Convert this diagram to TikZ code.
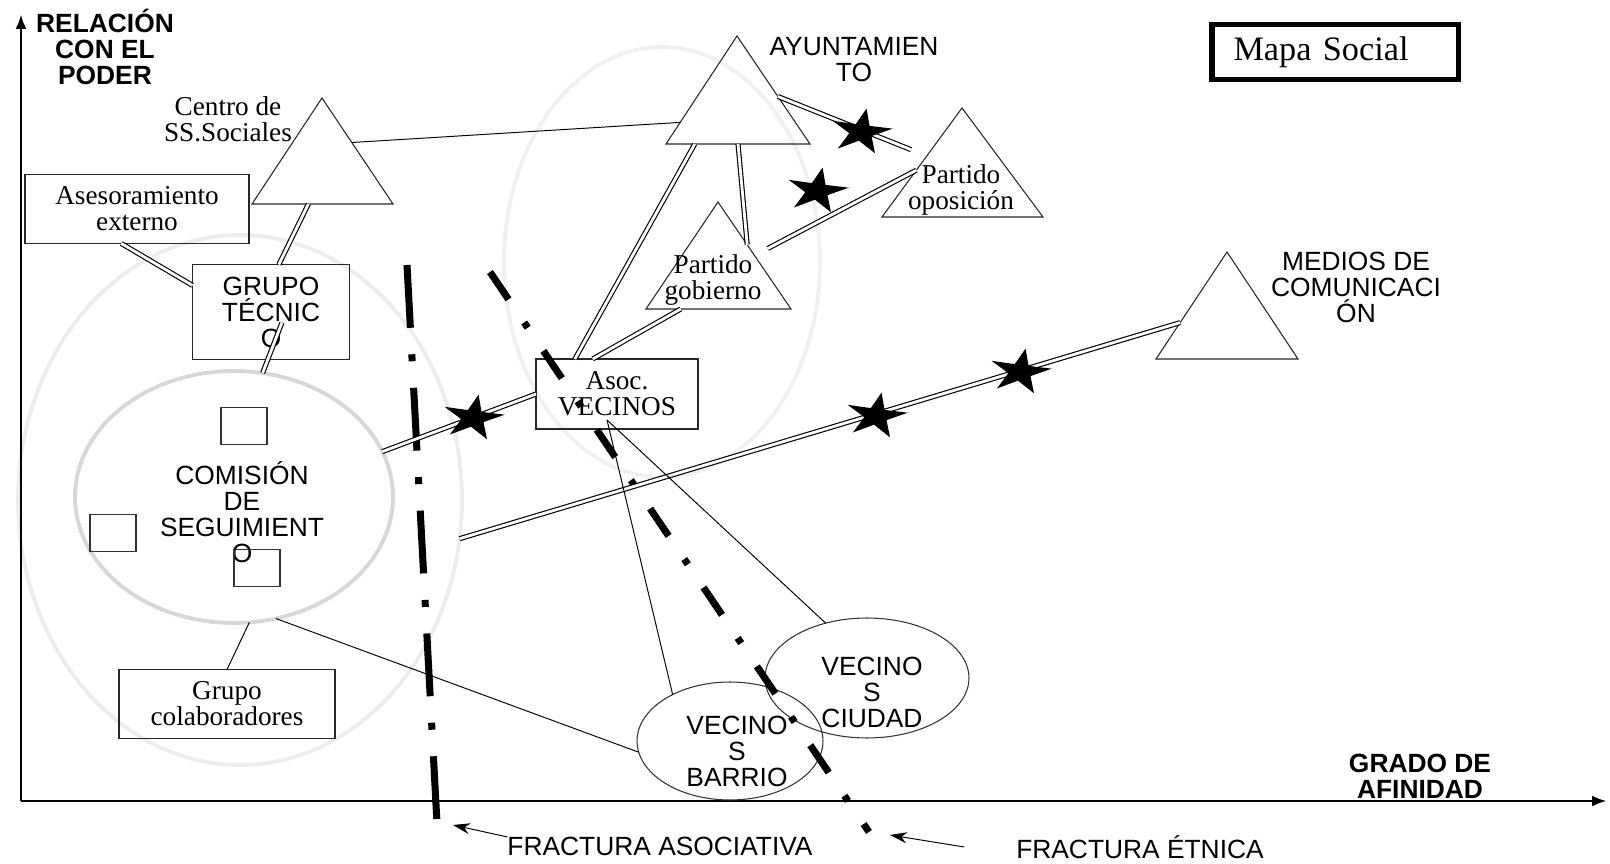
\documentclass[tikz,border=0pt]{standalone}
\usepackage{fontspec}
\setmainfont{Liberation Serif}
\setsansfont{Liberation Sans}
\usetikzlibrary{shapes.geometric,arrows.meta,calc}

\begin{document}
\begin{tikzpicture}[x={(0.02cm,0cm)},y={(0cm,-0.02cm)},every node/.style={inner sep=0pt, outer sep=0pt},
  txt/.style={font=\sffamily\fontsize{15}{14.8}\selectfont, align=center},
  txtb/.style={font=\sffamily\bfseries\fontsize{15}{14.8}\selectfont, align=center},
  rom/.style={font=\fontsize{15.5}{14.8}\selectfont, align=center},
  caja/.style={draw=black!85, line width=0.6pt, rom},
  cuadro/.style={draw=black!80, line width=0.6pt, minimum width=0.92cm, minimum height=0.74cm},
  elipse/.style={draw=black!80, line width=0.6pt, ellipse},
  halo/.style={draw={rgb,255:red,215;green,215;blue,215}, line width=2.2pt, ellipse},
  tri/.style={draw=black!85, line width=0.6pt},
  doble/.style={double, double distance=1.6pt, line width=0.65pt},
  fino/.style={line width=0.55pt},
  estrella/.style={star, star points=5, star point ratio=2.7, fill=black, minimum size=0.95cm, xscale=1.35, rotate=-10},
  fractura/.style={line width=4pt}]
\useasboundingbox (0,0) rectangle (1610,864);

\node[halo, draw={rgb,255:red,236;green,236;blue,236}, minimum width=8.88cm, minimum height=10.6cm] (ext) at (240,500) {};
\node[halo, draw={rgb,255:red,240;green,240;blue,240}, minimum width=6.32cm, minimum height=8.6cm] (zona) at (662,262) {};
\node[halo, minimum width=6.36cm, minimum height=5.04cm] (com) at (234,497) {};

\draw[line width=1.7pt, -{Latex[length=0.3cm,width=0.22cm]}] (21,801) coordinate (origen) -- (21,14);
\draw[line width=1.7pt, -{Latex[length=0.3cm,width=0.22cm]}] (origen) -- (1607,801);
\node[txtb] (ejey) at (105,47) {RELACIÓN\\CON EL\\PODER};
\node[txtb] (ejex) at (1420,776) {GRADO DE\\AFINIDAD};

\node[draw, line width=3.4pt, rom, font=\fontsize{19.5}{20}\selectfont, text width=4.06cm, align=left, inner xsep=0.44cm, minimum height=1.1cm] (mapa) at (1335,52) {Mapa Social};

\draw[tri] (322,98) coordinate (css-a) -- (393,204) coordinate (css-r) -- (252,204) coordinate (css-l) -- cycle;
\draw[tri] (737,36) coordinate (ayto-a) -- (810,144) coordinate (ayto-r) -- (666,144) coordinate (ayto-l) -- cycle;
\draw[tri] (962,108) coordinate (opo-a) -- (1043,217) coordinate (opo-r) -- (882,217) coordinate (opo-l) -- cycle;
\draw[tri] (718,202) coordinate (gob-a) -- (791,309) coordinate (gob-r) -- (646,309) coordinate (gob-l) -- cycle;
\draw[tri] (1227,252) coordinate (med-a) -- (1298,359) coordinate (med-r) -- (1156,359) coordinate (med-l) -- cycle;
\node[rom] (css) at (228,119) {Centro de\\SS.Sociales};
\node[txt] (ayto) at (854,60) {AYUNTAMIEN\\TO};
\node[rom] (opo) at (961,190) {Partido\\oposición};
\node[rom] (gob) at (713,280) {Partido\\gobierno};
\node[txt] (med) at (1356,287) {MEDIOS DE\\COMUNICACI\\ÓN};

\node[caja, minimum width=4.48cm, minimum height=1.38cm] (ases) at (137,209) {Asesoramiento\\externo};
\node[caja, txt, minimum width=3.14cm, minimum height=1.9cm] (grupo) at (271,312) {GRUPO\\TÉCNIC\\O};
\node[caja, minimum width=3.24cm, minimum height=1.4cm] (asoc) at (617,394) {Asoc.\\VECINOS};
\node[caja, minimum width=4.32cm, minimum height=1.38cm] (colab) at (227,704) {Grupo\\colaboradores};
\node[txt] (comtxt) at (242,512) {COMISIÓN\\DE\\SEGUIMIENT\\O};
\node[cuadro] (c1) at (244,426) {};
\node[cuadro] (c2) at (113,533) {};
\node[cuadro] (c3) at (257,568) {};
\node[elipse, minimum width=3.72cm, minimum height=2.36cm, label={[txt, xshift=0.14cm, yshift=-0.2cm]center:{VECINO\\S\\BARRIO}}] (barrio) at (730,741) {};
\node[elipse, minimum width=4.08cm, minimum height=2.4cm, label={[txt, xshift=0.1cm, yshift=-0.28cm]center:{VECINO\\S\\CIUDAD}}] (ciudad) at (867,678) {};

\draw[fractura, dash pattern=on 35.8pt off 15.1pt on 4pt off 15.1pt] (407,265) coordinate (fa-ini) -- (437,823) coordinate (fa-fin);
\draw[fractura, dash pattern=on 18.8pt off 15.9pt on 3.6pt off 15.9pt] (490,272) coordinate (fe-ini) -- (869,832) coordinate (fe-fin);
\node[txt] (fasoc) at (660,846) {FRACTURA ASOCIATIVA};
\node[txt] (fetn) at (1140,847) {FRACTURA ÉTNICA};
\draw[fino, -{Stealth[length=0.34cm,width=0.22cm]}] ([shift={(0,-9)}]fasoc.west) -- ([shift={(16,2)}]fa-fin);
\draw[fino, -{Stealth[length=0.34cm,width=0.22cm]}] ([shift={(-52,0)}]fetn.west) -- ([shift={(21,3)}]fe-fin);

\draw[doble] ($(css-l)!0.4!(css-r)$) -- ($(grupo.north west)!0.55!(grupo.north east)$);
\draw[doble] ($(ases.south west)!0.43!(ases.south east)$) -- ($(grupo.north west)!0.22!(grupo.south west)$);
\draw[doble] ([shift={(11,-37)}]grupo.south) -- (com.77);
\draw[fino] ($(css-a)!0.42!(css-r)$) -- ($(ayto-a)!0.8!(ayto-l)$);
\draw[doble] ($(ayto-l)!0.2!(ayto-r)$) -- ($(asoc.north west)!0.24!(asoc.north east)$);
\draw[doble] ($(ayto-l)!0.5!(ayto-r)$) -- ($(gob-a)!0.4!(gob-r)$);
\draw[doble, shorten >=0.34cm] ($(ayto-a)!0.56!(ayto-r)$) -- ($(opo-a)!0.44!(opo-l)$);
\draw[doble, shorten <=0.3cm] ($(gob-a)!0.5!(gob-r)$) -- ($(opo-a)!0.57!(opo-l)$);
\draw[doble] ($(gob-l)!0.24!(gob-r)$) -- ($(asoc.north west)!0.35!(asoc.north east)$);
\draw[doble] (com.17) -- (asoc.west);
\draw[doble] (ext.-10) -- ($(med-a)!0.66!(med-l)$);
\draw[fino] ([shift={(-10,-9)}]asoc.south) -- (barrio.141);
\draw[fino] ([shift={(-10,-9)}]asoc.south) -- (ciudad.127);
\draw[fino] (com.-71) -- (barrio.187);
\draw[fino] (com.-83) -- (colab.north);

\node[estrella] (e1) at (861,132) {};
\node[estrella] (e2) at (817,191) {};
\node[estrella] (e3) at (473,418) {};
\node[estrella] (e4) at (876,416) {};
\node[estrella] (e5) at (1020,372) {};
\end{tikzpicture}
\end{document}
